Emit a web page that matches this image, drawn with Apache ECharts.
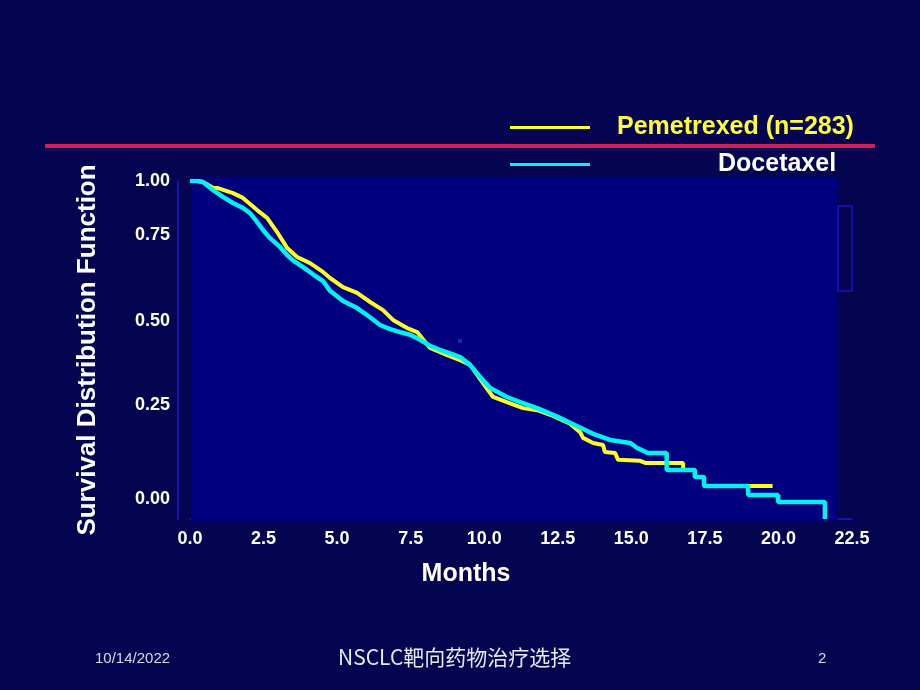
<!DOCTYPE html>
<html>
<head>
<meta charset="utf-8">
<script src="https://cdn.jsdelivr.net/npm/echarts@6/dist/echarts.min.js"></script>
<style>
html,body{margin:0;padding:0;background:#040450;}
#chart{width:920px;height:690px;}
</style>
</head>
<body>
<div id="chart"></div>
<script>
// ---- data ----
var seriesNames = ['Pemetrexed (n=283)', 'Docetaxel'];
var pemetrexedMonths = [0, 0.25, 0.44, 0.78, 0.95, 1.46, 1.8, 2.28, 2.62, 2.96, 3.3, 3.64, 4.08, 4.52, 4.76, 5.2, 5.68, 6.12, 6.56, 6.9, 7.38, 7.72, 8.16, 8.74, 9.18, 9.52, 9.96, 10.3, 10.77, 11.32, 11.8, 12.34, 12.9, 13.26, 13.36, 13.7, 14.04, 14.1, 14.45, 14.55, 15.3, 15.47, 16.76, 16.76, 17.16, 17.16, 17.47, 17.47, 19.8];
var pemetrexedSurvival = [1.0, 1.0, 0.997, 0.98, 0.979, 0.964, 0.95, 0.914, 0.891, 0.849, 0.802, 0.775, 0.757, 0.731, 0.713, 0.686, 0.669, 0.642, 0.618, 0.589, 0.565, 0.553, 0.506, 0.485, 0.47, 0.456, 0.402, 0.361, 0.346, 0.328, 0.322, 0.305, 0.283, 0.257, 0.24, 0.225, 0.219, 0.198, 0.195, 0.175, 0.172, 0.166, 0.166, 0.145, 0.145, 0.124, 0.124, 0.098, 0.098];
var docetaxelMonths = [0, 0.25, 0.44, 0.78, 1.12, 1.46, 1.8, 2.04, 2.28, 2.48, 2.72, 3.06, 3.3, 3.5, 3.84, 4.18, 4.52, 4.76, 5.2, 5.68, 6.12, 6.46, 6.8, 7.14, 7.48, 7.82, 8.16, 8.5, 8.84, 9.18, 9.52, 9.86, 10.2, 10.77, 11.22, 11.8, 12.34, 12.58, 13.15, 13.7, 14.28, 14.96, 15.2, 15.57, 16.2, 16.2, 17.16, 17.16, 17.47, 17.47, 18.97, 18.97, 19.99, 19.99, 21.58, 21.58];
var docetaxelSurvival = [1.0, 1.0, 0.997, 0.973, 0.953, 0.935, 0.92, 0.905, 0.879, 0.855, 0.831, 0.805, 0.781, 0.765, 0.745, 0.724, 0.704, 0.675, 0.645, 0.624, 0.597, 0.574, 0.562, 0.553, 0.545, 0.53, 0.512, 0.5, 0.49, 0.479, 0.456, 0.42, 0.388, 0.361, 0.346, 0.328, 0.308, 0.299, 0.275, 0.252, 0.234, 0.225, 0.21, 0.195, 0.195, 0.145, 0.145, 0.124, 0.124, 0.098, 0.098, 0.071, 0.071, 0.05, 0.05, 0.0];
var yTickLabels = ['0.00', '0.25', '0.50', '0.75', '1.00'];
var yTickLabelAt = [0.059, 0.337, 0.586, 0.840, 1.0];   // where the slide placed its labels
var xTickStep = 2.5;
var xMax = 22.5;
var xAxisTitle = 'Months';
var yAxisTitle = 'Survival Distribution Function';
var footerDate = '10/14/2022';
var footerTitle = 'NSCLC靶向药物治疗选择';
var footerPage = '2';

function pairs(xs, ys) { return xs.map(function (x, i) { return [x, ys[i]]; }); }

var FONT = '"Liberation Sans", Arial, sans-serif';
var chart = echarts.init(document.getElementById('chart'), null, {renderer: 'canvas'});
chart.setOption({
  backgroundColor: '#040450',
  animation: false,
  grid: {left: 190, right: 68, top: 181, bottom: 171, containLabel: false},
  legend: [
    {
      data: [seriesNames[0]], left: 510, top: 115, padding: 0,
      icon: 'rect', itemWidth: 80, itemHeight: 3,
      textStyle: {color: '#ffff33', fontFamily: FONT, fontWeight: 'bold', fontSize: 25, padding: [0, 0, 0, 22]}
    },
    {
      data: [seriesNames[1]], left: 510, top: 152, padding: 0,
      icon: 'rect', itemWidth: 80, itemHeight: 3,
      textStyle: {color: '#ffffff', fontFamily: FONT, fontWeight: 'bold', fontSize: 25, padding: [0, 0, 0, 123]}
    }
  ],
  xAxis: {
    type: 'value', min: 0, max: xMax, interval: xTickStep,
    axisLine: {show: true, onZero: false, lineStyle: {color: '#1c1cc4', width: 1.5}},
    axisTick: {show: false}, splitLine: {show: false},
    axisLabel: {color: '#ffffff', fontFamily: FONT, fontWeight: 'bold', fontSize: 18, margin: 11,
      formatter: function (v) { return v.toFixed(1); }},
    name: xAxisTitle, nameLocation: 'middle', nameGap: 43,
    nameTextStyle: {color: '#ffffff', fontFamily: FONT, fontWeight: 'bold', fontSize: 25, padding: [0, 110, 0, 0]}
  },
  yAxis: {
    type: 'value', min: 0, max: 1, offset: 12,
    axisLine: {show: true, onZero: false, lineStyle: {color: '#1c1cc4', width: 1.5}},
    axisTick: {show: false}, splitLine: {show: false},
    axisLabel: {color: '#ffffff', fontFamily: FONT, fontWeight: 'bold', fontSize: 18, margin: 8,
      customValues: yTickLabelAt,
      formatter: function (v) { var i = yTickLabelAt.indexOf(v); return i >= 0 ? yTickLabels[i] : ''; }},
    name: yAxisTitle, nameLocation: 'middle', nameGap: 77, nameRotate: 90,
    nameTextStyle: {color: '#ffffff', fontFamily: FONT, fontWeight: 'bold', fontSize: 26, padding: [0, 0, 0, 0]}
  },
  series: [
    {
      name: seriesNames[0], type: 'line', data: pairs(pemetrexedMonths, pemetrexedSurvival),
      showSymbol: false, symbol: 'none', z: 3,
      lineStyle: {color: '#ffff22', width: 4}, itemStyle: {color: '#ffff22'}
    },
    {
      name: seriesNames[1], type: 'line', data: pairs(docetaxelMonths, docetaxelSurvival),
      showSymbol: false, symbol: 'none', z: 4,
      lineStyle: {color: '#00f2f2', width: 4.5}, itemStyle: {color: '#00f2f2'}
    }
  ],
  graphic: [
    {type: 'rect', z: 1, silent: true, shape: {x: 191, y: 178, width: 647, height: 344}, style: {fill: '#00007e'}},
    {type: 'rect', z: 1, silent: true, shape: {x: 838, y: 206, width: 14, height: 85}, style: {fill: 'none', stroke: '#1414c0', lineWidth: 1.5}},
    {type: 'rect', z: 1, silent: true, shape: {x: 458, y: 339, width: 4, height: 4}, style: {fill: '#2a2a8a'}},
    {type: 'line', z: 5, silent: true, shape: {x1: 45, y1: 146, x2: 875, y2: 146}, style: {stroke: '#cc2458', lineWidth: 4}},
    {type: 'line', z: 5, silent: true, shape: {x1: 45, y1: 150, x2: 875, y2: 150}, style: {stroke: '#1a0a5a', lineWidth: 2}},
    {type: 'text', z: 5, left: 95, top: 651, style: {text: footerDate, fill: '#d8d8e8', font: '15px ' + FONT}},
    {type: 'text', z: 5, left: 338, top: 647, style: {text: footerTitle, fill: '#e8e8f0', font: '21px "Noto Sans CJK SC", "Liberation Sans", sans-serif'}},
    {type: 'text', z: 5, left: 818, top: 651, style: {text: footerPage, fill: '#d8d8e8', font: '15px ' + FONT}}
  ]
});
</script>
</body>
</html>
